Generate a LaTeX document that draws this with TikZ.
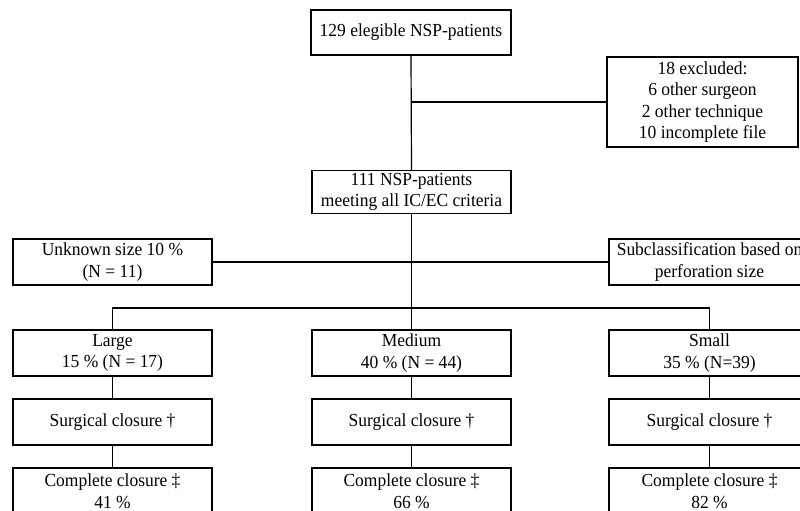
\documentclass[tikz,border=0pt]{standalone}
\usepackage{fontspec}
\setmainfont[FakeStretch=0.95]{Liberation Serif}
\begin{document}
\begin{tikzpicture}[x=1pt,y=-1pt,
  box/.style={draw=black,line width=1.4pt,inner sep=0pt,align=center,
    font=\fontsize{18.4}{21.5}\selectfont},
  wbox/.style={box,minimum width=199pt,minimum height=46pt},
  conn/.style={draw=black,line width=1.2pt}]
\useasboundingbox (0,0) rectangle (800,511);
\fill[white] (0,0) rectangle (800,511);
\clip (0,0) rectangle (800,511);
\node[box,minimum width=200pt,minimum height=45pt] (top) at (411,32.5) {129 elegible NSP-patients};
\node[box,minimum width=191pt,minimum height=90pt] (excl) at (702.5,102) {18 excluded:\\6 other surgeon\\2 other technique\\10 incomplete file};
\node[wbox,minimum height=43pt] (mid) at (411.5,192) {111 NSP-patients\\meeting all IC/EC criteria};
\node[wbox] (unk) at (112.5,262) {Unknown size 10 \%\\(N = 11)};
\node[wbox,minimum width=201pt] (sub) at (709.5,262) {Subclassification based on\\perforation size};
\node[wbox] (large) at (112.5,353) {Large\\15 \% (N = 17)};
\node[wbox] (medium) at (411.5,353) {Medium\\40 \% (N = 44)};
\node[wbox,minimum width=201pt] (small) at (709.5,353) {Small\\35 \% (N=39)};
\node[wbox] (surgL) at (112.5,422) {Surgical closure †};
\node[wbox] (surgM) at (411.5,422) {Surgical closure †};
\node[wbox,minimum width=201pt] (surgS) at (709.5,422) {Surgical closure †};
\node[wbox] (compL) at (112.5,491) {Complete closure ‡\\41 \%};
\node[wbox] (compM) at (411.5,491) {Complete closure ‡\\66 \%};
\node[wbox,minimum width=201pt] (compS) at (709.5,491) {Complete closure ‡\\82 \%};
\coordinate (bus) at (411.5,308);
\draw[conn] (top.south) -- (mid.north);
\draw[conn] (excl.west) -- (excl.west -| top.south);
\draw[conn] (unk.east) -- (sub.west);
\draw[conn] (mid.south) -- (bus);
\draw[conn] (large.north) |- (bus) -| (small.north);
\draw[conn] (bus) -- (medium.north);
\draw[conn] (large.south) -- (surgL.north);
\draw[conn] (medium.south) -- (surgM.north);
\draw[conn] (small.south) -- (surgS.north);
\draw[conn] (surgL.south) -- (compL.north);
\draw[conn] (surgM.south) -- (compM.north);
\draw[conn] (surgS.south) -- (compS.north);
\end{tikzpicture}
\end{document}
